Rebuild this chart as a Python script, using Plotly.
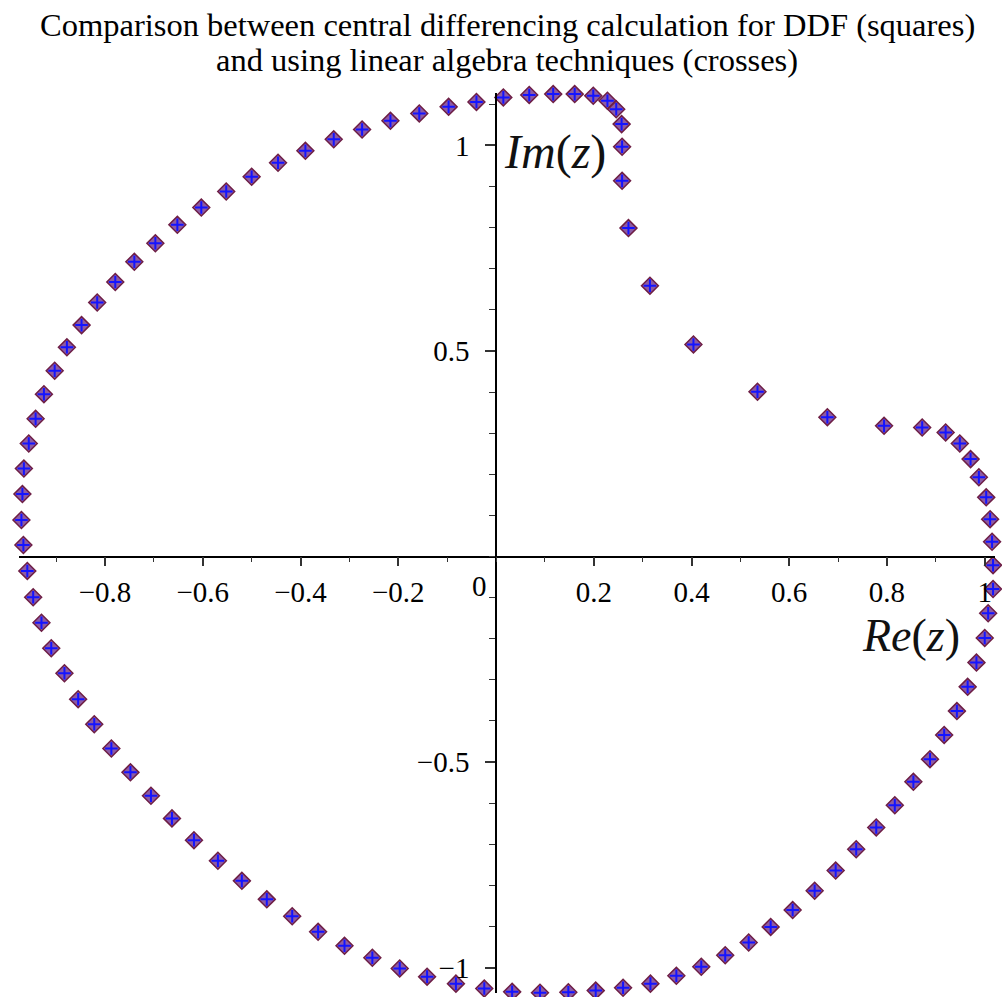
import plotly.graph_objects as go

# Eigenvalue-like points z in the complex plane (Re(z), Im(z)).
# Both methods give the same values at plotting resolution.
re_z = [
    -0.967, -0.971, -0.969, -0.966, -0.956, -0.942, -0.925, -0.903, -0.878, -0.848,
    -0.816, -0.779, -0.740, -0.697, -0.652, -0.603, -0.552, -0.500, -0.446, -0.390,
    -0.332, -0.274, -0.216, -0.157, -0.097, -0.040, 0.015, 0.068, 0.117, 0.161,
    0.199, 0.228, 0.246, 0.257, 0.258, 0.258, 0.271, 0.315, 0.404, 0.535,
    0.678, 0.794, 0.872, 0.920, 0.949, 0.971, 0.988, 1.003, 1.011, 1.015,
    1.017, 1.017, 1.007, 1.000, 0.983, 0.965, 0.943, 0.917, 0.888, 0.854,
    0.816, 0.778, 0.737, 0.695, 0.652, 0.607, 0.562, 0.517, 0.469, 0.420,
    0.369, 0.316, 0.260, 0.204, 0.148, 0.090, 0.033, -0.024, -0.082, -0.141,
    -0.197, -0.253, -0.310, -0.364, -0.417, -0.469, -0.520, -0.569, -0.618, -0.663,
    -0.706, -0.748, -0.787, -0.822, -0.855, -0.883, -0.910, -0.930, -0.947, -0.959,
]
im_z = [
    0.028, 0.089, 0.152, 0.214, 0.275, 0.335, 0.395, 0.452, 0.509, 0.563,
    0.618, 0.668, 0.717, 0.762, 0.807, 0.849, 0.888, 0.924, 0.958, 0.987,
    1.015, 1.039, 1.060, 1.078, 1.094, 1.106, 1.117, 1.123, 1.125, 1.125,
    1.121, 1.109, 1.088, 1.052, 0.997, 0.914, 0.799, 0.659, 0.516, 0.401,
    0.339, 0.318, 0.314, 0.302, 0.275, 0.237, 0.193, 0.144, 0.091, 0.036,
    -0.021, -0.079, -0.138, -0.198, -0.258, -0.317, -0.376, -0.434, -0.493, -0.548,
    -0.605, -0.659, -0.712, -0.764, -0.813, -0.860, -0.901, -0.939, -0.970, -0.998,
    -1.020, -1.039, -1.049, -1.056, -1.060, -1.061, -1.059, -1.051, -1.039, -1.022,
    -1.002, -0.976, -0.947, -0.913, -0.875, -0.834, -0.789, -0.740, -0.690, -0.637,
    -0.582, -0.525, -0.467, -0.408, -0.347, -0.284, -0.223, -0.161, -0.099, -0.035,
]

# Central differencing (squares) and linear algebra (crosses) results
re_ddf, im_ddf = re_z, im_z
re_linalg, im_linalg = re_z, im_z

x_ticks = [-0.8, -0.6, -0.4, -0.2, 0.2, 0.4, 0.6, 0.8, 1]
x_tick_text = ["\u22120.8", "\u22120.6", "\u22120.4", "\u22120.2", "0.2", "0.4", "0.6", "0.8", "1"]
y_ticks = [-1, -0.5, 0.5, 1]
y_tick_text = ["\u22121", "\u22120.5", "0.5", "1"]

x_range = [-0.976, 1.021]
y_range = [-1.0618, 1.1277]

SERIF = "Liberation Serif, Times New Roman, serif"
TITLE_LINES = [
    "Comparison between central differencing calculation for DDF (squares)",
    "and using linear algebra techniques (crosses)",
]

PLOT_TOP, PLOT_H = 93, 900


def paper_y(py):
    """Pixel row (from the top of the page) to paper coordinate."""
    return 1 - (py - PLOT_TOP) / PLOT_H


fig = go.Figure()
fig.add_trace(go.Scatter(
    x=re_ddf, y=im_ddf, mode="markers", name="central differencing",
    cliponaxis=False,
    marker=dict(symbol="diamond", size=13, color="#8c5aa4",
                line=dict(color="#6e1f45", width=1.5)),
))
fig.add_trace(go.Scatter(
    x=re_linalg, y=im_linalg, mode="markers", name="linear algebra",
    cliponaxis=False,
    marker=dict(symbol="cross-thin", size=9, color="#1414ff",
                line=dict(color="#1414ff", width=2)),
))

x_pos = (0 - y_range[0]) / (y_range[1] - y_range[0])
y_pos = (0 - x_range[0]) / (x_range[1] - x_range[0])

annotations = [
    dict(text=TITLE_LINES[0], x=0.5, y=paper_y(25), xref="paper", yref="paper",
         xanchor="center", yanchor="middle", showarrow=False,
         font=dict(family=SERIF, size=32.5, color="black")),
    dict(text=TITLE_LINES[1], x=0.5, y=paper_y(60), xref="paper", yref="paper",
         xanchor="center", yanchor="middle", showarrow=False,
         font=dict(family=SERIF, size=32.5, color="black")),
    dict(text="0", x=-0.034, y=paper_y(586), xref="x", yref="paper", showarrow=False,
         yanchor="middle", font=dict(family=SERIF, size=29, color="black")),
    dict(text="<i>Im</i>(<i>z</i>)", x=0.012, y=paper_y(152), xref="x", yref="paper",
         xanchor="left", yanchor="middle", showarrow=False,
         font=dict(family=SERIF, size=48, color="#111")),
    dict(text="<i>Re</i>(<i>z</i>)", x=0.745, y=paper_y(635), xref="x", yref="paper",
         xanchor="left", yanchor="middle", showarrow=False,
         font=dict(family=SERIF, size=46, color="#111")),
]

fig.update_layout(
    width=1002, height=997,
    margin=dict(l=19, r=7, t=PLOT_TOP, b=997 - PLOT_TOP - PLOT_H),
    paper_bgcolor="white", plot_bgcolor="white",
    showlegend=False,
    font=dict(family=SERIF, color="black"),
    xaxis=dict(
        range=x_range, anchor="free", position=x_pos,
        showgrid=False, zeroline=False,
        showline=True, linecolor="black", linewidth=1.5,
        ticks="outside", ticklen=9, tickwidth=1.5, tickcolor="#333",
        tickvals=x_ticks, ticktext=x_tick_text,
        tickfont=dict(family=SERIF, size=29, color="black"),
        ticklabelstandoff=1,
        minor=dict(ticks="outside", ticklen=5, tickwidth=1.2, tickcolor="#333", dtick=0.1, tick0=0,
                   showgrid=False),
    ),
    yaxis=dict(
        range=y_range, anchor="free", position=y_pos,
        showgrid=False, zeroline=False,
        showline=True, linecolor="black", linewidth=1.5,
        ticks="outside", ticklen=10, tickwidth=1.5, tickcolor="#333",
        tickvals=y_ticks, ticktext=y_tick_text,
        tickfont=dict(family=SERIF, size=29, color="black"),
        ticklabelstandoff=10,
        minor=dict(ticks="outside", ticklen=6, tickwidth=1.2, tickcolor="#333", dtick=0.1, tick0=0,
                   showgrid=False),
    ),
    annotations=annotations,
)

fig.write_html("out.html")
